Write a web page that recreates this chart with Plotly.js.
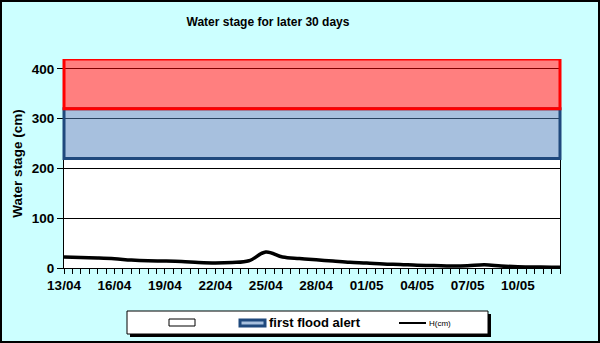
<!DOCTYPE html>
<html>
<head>
<meta charset="utf-8">
<script src="https://cdn.plot.ly/plotly-3.0.1.min.js"></script>
<style>html,body{margin:0;padding:0;background:#CCFFFF;}#chart{width:600px;height:343px;}</style>
</head>
<body>
<div id="chart"></div>
<script>
// ---- data ----
const dates = ['2024-04-13','2024-04-14','2024-04-15','2024-04-16','2024-04-17','2024-04-18','2024-04-19','2024-04-20','2024-04-21','2024-04-22','2024-04-23','2024-04-24','2024-04-25','2024-04-26','2024-04-27','2024-04-28','2024-04-29','2024-04-30','2024-05-01','2024-05-02','2024-05-03','2024-05-04','2024-05-05','2024-05-06','2024-05-07','2024-05-08','2024-05-09','2024-05-10','2024-05-11','2024-05-12','2024-05-12 12:00'];
const stage = [22,21,20,18.5,16,14.5,14,13,11,10,11,14.5,32,22,19,16.5,14,11.5,10,8,7,5.5,5,4,4.5,6.5,4,2.5,2,1.5,1.5];
const xRange = ['2024-04-13','2024-05-12 12:00'];
const alertLevels = [220, 320, 420];   // first flood alert 220-320, upper band 320-420
const legendNames = ['', 'first flood alert', 'H(cm)'];
const titleText = 'Water stage for later 30 days';
const yTitle = 'Water stage (cm)';

// ---- layout helpers ----
const W = 600, H = 343, ML = 64, MR = 40, MT = 59, MB = 75;
const PW = W - ML - MR, PH = H - MT - MB;
const px = x => (x - ML) / PW;
const py = y => (H - MB - y) / PH;
const FONT = 'Liberation Sans, Arial, sans-serif';

const trace = {
  x: dates, y: stage, type: 'scatter', mode: 'lines',
  line: {color: '#000000', width: 3.5, shape: 'spline', smoothing: 1},
  name: legendNames[2], showlegend: false, hoverinfo: 'skip'
};

const shapes = [
  // blue band
  {type: 'rect', layer: 'above', xref: 'paper', yref: 'y', x0: 0, x1: 1, y0: alertLevels[0], y1: alertLevels[1],
   fillcolor: 'rgba(79,129,189,0.5)', line: {color: '#1F497D', width: 3}},
  // red band
  {type: 'rect', layer: 'above', xref: 'paper', yref: 'y', x0: 0, x1: 1, y0: alertLevels[1], y1: alertLevels[2],
   fillcolor: 'rgba(255,0,0,0.5)', line: {color: '#FF0000', width: 3}},
  // figure border
  {type: 'rect', xref: 'paper', yref: 'paper', x0: px(1), x1: px(599), y0: py(1), y1: py(342),
   fillcolor: 'rgba(0,0,0,0)', line: {color: '#000000', width: 2}},
  // legend shadow
  {type: 'rect', xref: 'paper', yref: 'paper', x0: px(130), x1: px(491), y0: py(314), y1: py(337),
   fillcolor: '#000000', line: {width: 0}},
  // legend box
  {type: 'rect', xref: 'paper', yref: 'paper', x0: px(127), x1: px(488), y0: py(311), y1: py(334),
   fillcolor: '#FFFFFF', line: {color: '#000000', width: 1}},
  // legend swatch 1 (white)
  {type: 'rect', xref: 'paper', yref: 'paper', x0: px(169), x1: px(195), y0: py(319), y1: py(326),
   fillcolor: '#FFFFFF', line: {color: '#000000', width: 1}},
  // legend swatch 2 (blue)
  {type: 'rect', xref: 'paper', yref: 'paper', x0: px(240), x1: px(265), y0: py(320), y1: py(326),
   fillcolor: '#A7C0DE', line: {color: '#1F497D', width: 3}},
  // legend swatch 3 (line)
  {type: 'line', xref: 'paper', yref: 'paper', x0: px(399), x1: px(426), y0: py(323), y1: py(323),
   line: {color: '#000000', width: 2}}
];

const annotations = [
  {xref: 'paper', yref: 'paper', x: px(267), y: py(322.5), xanchor: 'left', yanchor: 'middle', showarrow: false,
   text: legendNames[1], font: {family: FONT, size: 13, weight: 'bold', color: '#000'}},
  {xref: 'paper', yref: 'paper', x: px(427), y: py(323.5), xanchor: 'left', yanchor: 'middle', showarrow: false,
   text: legendNames[2], font: {family: FONT, size: 8, color: '#000'}}
];

const layout = {
  width: W, height: H,
  margin: {l: ML, r: MR, t: MT, b: MB, autoexpand: false},
  paper_bgcolor: '#CCFFFF', plot_bgcolor: '#FFFFFF',
  font: {family: FONT, color: '#000000'},
  showlegend: false,
  title: {text: titleText, x: 268 / W, xref: 'container', xanchor: 'center',
          y: 1 - 22 / H, yref: 'container', yanchor: 'middle',
          font: {family: FONT, size: 12, weight: 'bold', color: '#000'}},
  xaxis: {
    type: 'date', range: xRange, tick0: xRange[0], dtick: 3 * 86400000, tickformat: '%d/%m',
    ticks: 'outside', ticklen: 5, tickcolor: '#000', tickwidth: 1,
    minor: {dtick: 43200000, ticks: 'outside', ticklen: 5, tickcolor: '#000', tickwidth: 1, showgrid: false},
    showline: true, linecolor: '#000', linewidth: 1, showgrid: false, zeroline: false,
    tickfont: {family: FONT, size: 13.5, weight: 'bold', color: '#000'}, fixedrange: true
  },
  yaxis: {
    range: [0, alertLevels[2]], dtick: 100, tick0: 0,
    ticks: 'outside', ticklen: 6, tickcolor: '#000', tickwidth: 1,
    showline: true, linecolor: '#000', linewidth: 1, mirror: true,
    showgrid: true, gridcolor: '#000', gridwidth: 1, zeroline: false,
    tickfont: {family: FONT, size: 13.5, weight: 'bold', color: '#000'},
    title: {text: yTitle, standoff: 6, font: {family: FONT, size: 13.5, weight: 'bold', color: '#000'}},
    fixedrange: true
  },
  shapes: shapes,
  annotations: annotations
};

Plotly.newPlot('chart', [trace], layout, {displayModeBar: false, staticPlot: true});
</script>
</body>
</html>
